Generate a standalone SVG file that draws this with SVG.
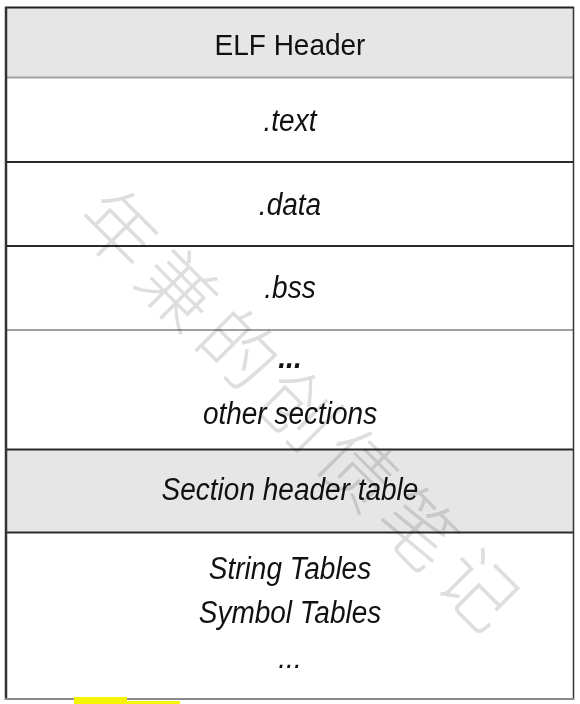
<svg xmlns="http://www.w3.org/2000/svg" width="580" height="704" viewBox="0 0 580 704">
<style>
.t{font-family:"Liberation Sans",Arial,sans-serif;font-size:28px;fill:#111;text-anchor:middle}
.i{font-style:italic}
.shade{fill:#e6e6e6}
.dk{stroke:#2a2a2a;stroke-width:2}
.lt{stroke:#a0a0a0;stroke-width:2}
.wm{font-family:"Noto Sans CJK SC",sans-serif;font-size:76px;font-weight:200;fill:#dedede}
#watermark{mix-blend-mode:multiply}
</style>
<rect x="0" y="0" width="580" height="704" fill="#fff"/>
<g id="rows">
<g id="elf-header"><rect class="shade" x="6" y="8" width="567" height="69"/><text class="t" transform="translate(290 55) scale(1 1.05)">ELF Header</text></g>
<g id="text-sec"><text class="t i" transform="translate(290 131) scale(1 1.1)">.text</text></g>
<g id="data-sec"><text class="t i" transform="translate(290 215) scale(1 1.1)">.data</text></g>
<g id="bss-sec"><text class="t i" transform="translate(290 298) scale(1 1.1)">.bss</text></g>
<g id="other-sec"><text class="t i" transform="translate(290 368) scale(1 1.1)" style="font-weight:bold">...</text><text class="t i" transform="translate(290 424) scale(1 1.1)">other sections</text></g>
<g id="sht"><rect class="shade" x="6" y="450" width="567" height="82"/><text class="t i" transform="translate(290 500) scale(1 1.1)">Section header table</text></g>
<g id="tables"><text class="t i" transform="translate(290 579) scale(1 1.1)">String Tables</text><text class="t i" transform="translate(290 623) scale(1 1.1)">Symbol Tables</text><text class="t i" transform="translate(290 668) scale(1 1.1)">...</text></g>
</g>
<g id="connectors">
<line class="lt" x1="6" y1="77.5" x2="573" y2="77.5"/>
<line class="dk" x1="6" y1="162" x2="573" y2="162"/>
<line class="dk" x1="6" y1="246" x2="573" y2="246"/>
<line class="lt" x1="6" y1="330" x2="573" y2="330"/>
<line class="dk" x1="6" y1="449.5" x2="573" y2="449.5"/>
<line class="dk" x1="6" y1="532.5" x2="573" y2="532.5"/>
<line x1="5" y1="7.5" x2="574" y2="7.5" stroke="#222" stroke-width="2"/>
<line x1="6" y1="7" x2="6" y2="700" stroke="#333" stroke-width="2.5"/>
<line x1="573.5" y1="7" x2="573.5" y2="700" stroke="#333" stroke-width="1.5"/>
<line x1="5" y1="699" x2="574" y2="699" stroke="#8a8a8a" stroke-width="2"/>
</g>
<g id="watermark">
<text class="wm" transform="translate(72,222) rotate(45)" x="0" y="0" textLength="585" lengthAdjust="spacing">年兼的创债笔记</text>
</g>
<rect x="74" y="697" width="53" height="4" fill="#f5f500"/>
<rect x="74" y="701" width="106" height="3" fill="#f5f500"/>
</svg>
